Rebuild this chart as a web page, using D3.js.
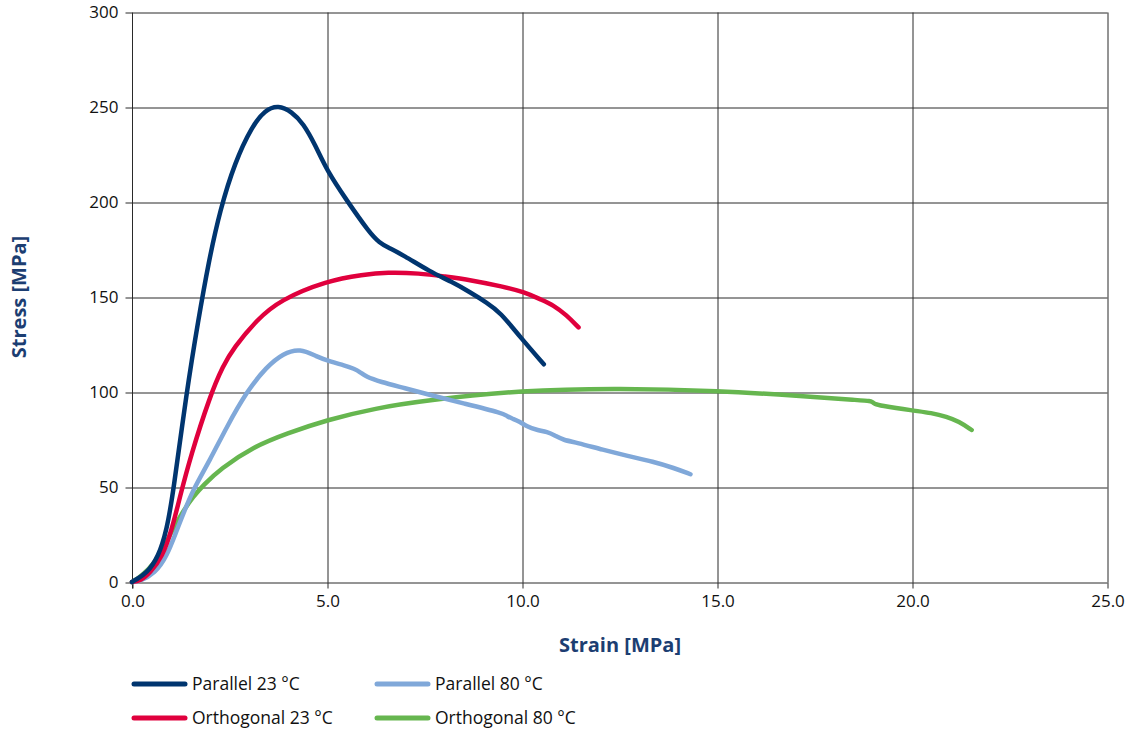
<!DOCTYPE html>
<html>
<head>
<meta charset="utf-8">
<script src="https://cdn.jsdelivr.net/npm/d3@7"></script>
<style>
  html, body { margin: 0; padding: 0; background: #fff; }
  svg { display: block; font-family: "Open Sans", "Noto Sans", sans-serif; }
</style>
</head>
<body>
<svg id="chart" width="1128" height="733"></svg>
<script>
// Tensile test curves: stress vs. strain, two orientations at two temperatures
const seriesNames = ["Parallel 23 °C", "Parallel 80 °C", "Orthogonal 23 °C", "Orthogonal 80 °C"];
const seriesColors = ["#00356f", "#80a8d9", "#e0003d", "#66b64f"];

const parallel23 = [
  [0, 0], [0.08, 1], [0.38, 4.6], [0.68, 13.3], [0.89, 27.4], [1.05, 46], [1.4, 100.2],
  [1.7, 137.9], [1.96, 168], [2.26, 196], [2.64, 221], [3.07, 239.6], [3.41, 248.4],
  [3.75, 251], [4.1, 247.5], [4.39, 241.4], [4.7, 230], [4.99, 216.8], [5.5, 201],
  [6.1, 183.5], [6.35, 178.5], [6.55, 176.2], [6.96, 172], [7.64, 163.3], [8.2, 158],
  [8.67, 152.5], [9.1, 147], [9.44, 142], [9.95, 129], [10.56, 114.6]
];
const parallel80 = [
  [0, 0], [0.2, 0.3], [0.59, 4.6], [0.89, 13.3], [1.15, 27.4], [1.32, 36.1], [1.55, 48],
  [2.0, 64.2], [2.43, 81.7], [2.94, 100.2], [3.45, 113.3], [3.88, 120.4], [4.31, 123],
  [4.74, 118.6], [5.08, 116], [5.45, 114], [5.7, 112.2], [5.85, 110.5], [6.0, 108],
  [6.36, 105.4], [7.0, 102], [7.64, 98.4], [8.5, 94], [9.52, 88.8], [9.62, 87.2],
  [9.75, 86], [9.95, 84.4], [10.12, 81.8], [10.38, 80], [10.65, 79], [10.85, 77],
  [11.06, 74.7], [11.4, 73.4], [12.08, 69.5], [12.7, 66.4], [13.37, 63.3], [13.9, 60],
  [14.32, 56.7]
];
const orthogonal23 = [
  [0, 0], [0.2, 0.4], [0.46, 4.6], [0.78, 13.3], [1.02, 27.4], [1.23, 44.9], [1.5, 66],
  [2.0, 98], [2.34, 114], [2.6, 123], [3.2, 138], [3.79, 148.4], [5.0, 158.6],
  [5.93, 161.8], [6.53, 163], [7.38, 162.5], [8.0, 160.8], [8.67, 159], [9.52, 155.4],
  [10.03, 152.8], [10.5, 148.5], [10.8, 145.8], [11.14, 140.5], [11.45, 134]
];
const orthogonal80 = [
  [0, 0], [0.15, 1.8], [0.42, 6.3], [0.7, 13.5], [1.0, 26], [1.3, 37], [1.57, 45],
  [1.83, 51], [2.26, 59.5], [3.11, 71.2], [3.97, 78.2], [4.99, 85.3], [6.25, 91.5],
  [7.5, 95.5], [10.0, 101], [12.5, 102], [15.08, 100.7], [17.1, 97.9], [18.7, 95.6],
  [18.92, 95.3], [18.98, 94.8], [19.06, 93.6], [19.15, 93], [20.03, 90.2], [20.5, 89],
  [20.89, 87], [21.2, 84.5], [21.53, 80]
];
const seriesData = [parallel23, parallel80, orthogonal23, orthogonal80];
// drawing order: light curves first, dark ones on top
const drawOrder = [3, 1, 2, 0];

const xTicks = [0, 5, 10, 15, 20, 25];
const yTicks = [0, 50, 100, 150, 200, 250, 300];
const xTitle = "Strain [MPa]";
const yTitle = "Stress [MPa]";

const svg = d3.select("#chart");
const plot = { left: 132, right: 1107, top: 12, bottom: 582 };

const x = d3.scaleLinear().domain([0, 25]).range([plot.left, plot.right]);
const y = d3.scaleLinear().domain([0, 300]).range([plot.bottom, plot.top]);

const gridColor = "#2a2a2a";

// horizontal grid + y axis
const yAxis = d3.axisLeft(y).tickValues(yTicks).tickSize(7).tickPadding(7)
  .tickFormat(d3.format("d"));
const gy = svg.append("g").attr("transform", `translate(${plot.left + 0.5},0.5)`).call(yAxis);
gy.select(".domain").attr("d", `M0,${plot.top}V${plot.bottom + 6}`).attr("stroke", gridColor);
gy.selectAll(".tick line").attr("stroke", gridColor);
gy.selectAll(".tick").append("line")
  .attr("x1", 0).attr("x2", plot.right - plot.left)
  .attr("stroke", gridColor);
gy.selectAll(".tick text").attr("font-size", 17).attr("fill", "#111")
  .attr("font-family", "'Open Sans', sans-serif");

// vertical grid + x axis
const xAxis = d3.axisBottom(x).tickValues(xTicks).tickSize(6).tickPadding(6)
  .tickFormat(d3.format(".1f"));
const gx = svg.append("g").attr("transform", `translate(0.5,${plot.bottom + 0.5})`).call(xAxis);
gx.select(".domain").remove();
gx.selectAll(".tick line").attr("stroke", gridColor);
gx.selectAll(".tick").filter(d => d > 0).append("line")
  .attr("y1", 0).attr("y2", plot.top - plot.bottom)
  .attr("stroke", gridColor);
gx.selectAll(".tick text").attr("font-size", 17).attr("fill", "#111")
  .attr("font-family", "'Open Sans', sans-serif");

// curves (B-spline through the measured points for a smooth trace)
const line = d3.line()
  .x(d => x(d[0]))
  .y(d => y(d[1]))
  .curve(d3.curveBasis);

svg.append("g").selectAll("path")
  .data(drawOrder)
  .join("path")
  .attr("d", i => line(seriesData[i]))
  .attr("fill", "none")
  .attr("stroke", i => seriesColors[i])
  .attr("stroke-width", 4.5)
  .attr("stroke-linecap", "round")
  .attr("stroke-linejoin", "round");

// axis titles
svg.append("text")
  .attr("x", 620).attr("y", 652)
  .attr("text-anchor", "middle")
  .attr("font-size", 20).attr("font-weight", "bold")
  .attr("fill", "#1c3e72")
  .text(xTitle);
svg.append("text")
  .attr("transform", "translate(26,297) rotate(-90)")
  .attr("text-anchor", "middle")
  .attr("font-size", 20).attr("font-weight", "bold")
  .attr("fill", "#1c3e72")
  .text(yTitle);

// legend: two columns, two rows
const legendPos = [
  { x: 134, y: 684 }, { x: 377, y: 684 },
  { x: 134, y: 718 }, { x: 377, y: 718 }
];
const legend = svg.append("g").selectAll("g")
  .data(seriesNames)
  .join("g")
  .attr("transform", (d, i) => `translate(${legendPos[i].x},${legendPos[i].y})`);
legend.append("line")
  .attr("x1", 0).attr("x2", 51)
  .attr("stroke", (d, i) => seriesColors[i])
  .attr("stroke-width", 5)
  .attr("stroke-linecap", "round");
legend.append("text")
  .attr("x", 58).attr("y", 0).attr("dy", "0.35em")
  .attr("font-size", 17.5).attr("fill", "#111")
  .text(d => d);
</script>
</body>
</html>
